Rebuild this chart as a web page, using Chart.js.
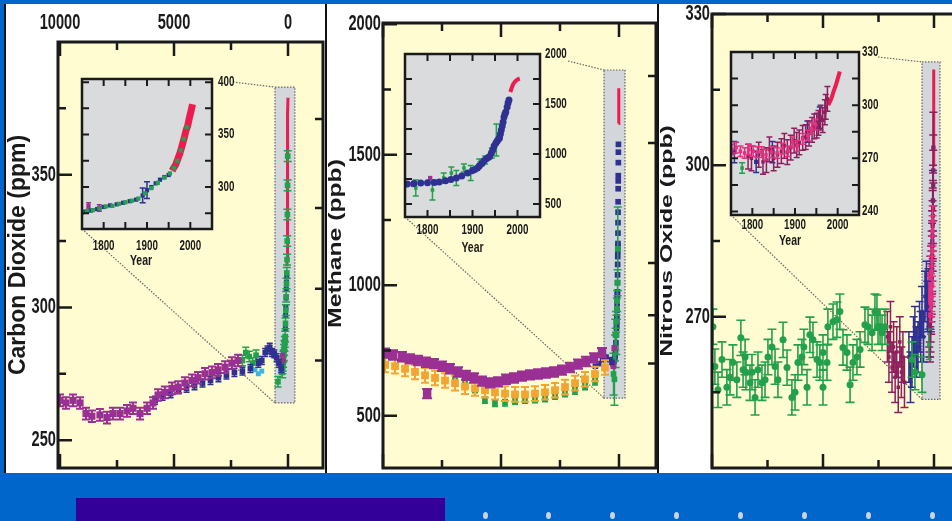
<!DOCTYPE html>
<html>
<head>
<meta charset="utf-8">
<title>Carbon dioxide, methane, nitrous oxide</title>
<script src="https://cdn.jsdelivr.net/npm/chart.js@4.4.1/dist/chart.umd.min.js"></script>
<style>
  html, body { margin: 0; padding: 0; }
  body { position: relative; width: 952px; height: 521px; overflow: hidden; background: #0066cc; }
  .panel { position: absolute; top: 4px; height: 469px; background: #fff; box-sizing: border-box; border-left: 2px solid #111; }
  canvas { position: absolute; }
  .bar { position: absolute; left: 76px; top: 498px; width: 369px; height: 23px; background: #330099; }
  .dot { position: absolute; top: 512px; width: 5px; height: 7px; border-radius: 50%; background: #c9d2e3; }
</style>
</head>
<body>
<div class="panel" style="left:4px;width:322px"></div>
<div class="panel" style="left:325px;width:334px"></div>
<div class="panel" style="left:657px;width:295px"></div>

<canvas id="co2" width="319" height="469" style="left:6px;top:4px"></canvas>
<canvas id="co2Inset" width="185" height="204" style="left:72px;top:70px"></canvas>
<canvas id="ch4" width="332" height="469" style="left:326px;top:4px"></canvas>
<canvas id="ch4Inset" width="190" height="217" style="left:395px;top:45px"></canvas>
<canvas id="n2o" width="316" height="469" style="left:659px;top:4px"></canvas>
<canvas id="n2oInset" width="183" height="217" style="left:721px;top:43px"></canvas>

<div class="bar"></div>
<div class="dot" style="left:483px"></div>
<div class="dot" style="left:546px"></div>
<div class="dot" style="left:610px"></div>
<div class="dot" style="left:674px"></div>
<div class="dot" style="left:738px"></div>
<div class="dot" style="left:802px"></div>
<div class="dot" style="left:866px"></div>
<div class="dot" style="left:930px"></div>

<script>
// shared axes: long axis is years before 2005, insets are calendar years
const refYear = 2005;
const ageTicks = [0, 2500, 5000, 7500, 10000];
const ageLabels = [10000, 5000, 0];
const yearTicks = [1800, 1850, 1900, 1950, 2000];
const yearLabels = [1800, 1900, 2000];

// ---- carbon dioxide (ppm) ----
const co2Ticks = [250, 275, 300, 325, 350, 375];
const co2Labels = [250, 300, 350];
const co2RightTicks = [280, 307, 337.5, 371];
const co2InsetTicks = [275, 300, 325, 350, 375, 400];
const co2InsetLabels = [300, 350, 400];
const co2Window = [570, -300, 264, 383]; // age from, age to, ppm low, ppm high

const co2PurpleAge = [10000, 9740, 9430, 9120, 8860, 8600, 8250, 7940, 7680, 7370, 7060, 6800, 6490, 6180, 5920, 5700, 5400, 5090, 4820, 4520, 4210, 3950, 3640, 3330, 3070, 2760, 2460, 2190];
const co2PurplePpm = [265, 264, 265, 264, 260, 259, 259.5, 258.5, 260, 260, 261, 262, 260, 262, 264, 267, 268, 269.5, 270, 271.5, 272.5, 273.5, 275, 275.5, 276.5, 277.5, 279, 280];
const co2BlueAge = [5830, 5500, 5150, 4800, 4450, 4100, 3750, 3400, 3050, 2700, 2350, 2000, 1650, 1300, 1150, 1000, 900, 800, 700, 600, 500, 400, 300];
const co2BluePpm = [265, 266.5, 267.5, 269, 269.5, 270.5, 271.5, 272.5, 273.5, 274.5, 275.5, 276, 277, 279, 280, 283, 284, 285, 283, 282.5, 281, 279, 277];
const co2GreenAge = [2000, 1850, 1700, 1550, 1400, 440];
const co2GreenPpm = [280, 283, 281.5, 279, 282, 272];
const co2CyanAge = [1450, 1300, 1150];
const co2CyanPpm = [276.5, 275, 276];

const co2LawYr = [1755, 1770, 1785, 1800, 1815, 1830, 1845, 1860, 1875, 1890, 1900, 1910, 1920, 1930, 1940, 1950];
const co2LawPpm = [276.5, 277.5, 279, 281, 282.5, 283.5, 285, 286.5, 288, 292, 297, 300, 303.5, 307, 309.5, 311.5];
const co2LawErr = [0, 0, 0, 0, 0, 0, 0, 0, 0, 7, 8, 0, 0, 0, 0, 0];
const co2SipleYr = [1750, 1762, 1775, 1790, 1805, 1820, 1835, 1850, 1865, 1880, 1895, 1910, 1925, 1940, 1953, 1962, 1970, 1978, 1985, 1992];
const co2SiplePpm = [275.5, 277, 278, 279.5, 281.5, 282, 284, 285.5, 287, 289, 294, 299, 304, 309, 313, 318, 325, 335, 346, 357];
const co2EarlyYr = [1765, 1790];
const co2EarlyPpm = [282, 280];
const co2MloYr = [1958, 1962, 1966, 1970, 1974, 1978, 1982, 1986, 1990, 1994, 1998, 2002, 2005];
const co2MloPpm = [315.5, 318.5, 321, 325.5, 330, 335, 341, 347, 354, 358.5, 366.5, 373, 379];

// ---- methane (ppb) ----
const ch4Ticks = [500, 750, 1000, 1250, 1500, 1750, 2000];
const ch4Labels = [500, 1000, 1500, 2000];
const ch4RightTicks = [700, 885, 1085, 1545, 1802];
const ch4InsetTicks = [500, 750, 1000, 1250, 1500, 1750, 2000];
const ch4InsetLabels = [500, 1000, 1500, 2000];
const ch4Window = [636, -254, 568, 1825];

const ch4PurpleAge = [9915, 9575, 9195, 8855, 8515, 8180, 7840, 7500, 7160, 6820, 6480, 6145, 5805, 5465, 5125, 4790, 4450, 4110, 3770, 3430, 3095, 2755, 2415, 2075, 1735, 1400, 1060, 720, 8130];
const ch4PurplePpb = [740, 733, 726, 718, 712, 705, 700, 690, 680, 668, 655, 645, 633, 626, 630, 640, 645, 652, 657, 660, 664, 668, 675, 685, 698, 708, 722, 742, 585];
const ch4OrangeAge = [9915, 9491, 9067, 8643, 8220, 7796, 7372, 6949, 6525, 6101, 5678, 5254, 4830, 4406, 3983, 3559, 3135, 2712, 2288, 1864, 1441, 1017, 593];
const ch4OrangePpb = [695, 690, 680, 668, 655, 645, 635, 625, 612, 605, 598, 590, 585, 582, 582, 585, 590, 598, 610, 625, 640, 660, 685];
const ch4GreenAge = [6950, 6525, 6100, 5680, 5255, 4830, 4405, 3985, 3560, 3135, 2710, 2290, 1865, 1440, 1015];
const ch4GreenPpb = [650, 640, 600, 560, 548, 550, 556, 560, 562, 566, 575, 585, 595, 612, 630];
const ch4BlueAge = [1000, 850, 700, 550, 400, 300];
const ch4BluePpb = [690, 700, 715, 725, 715, 705];

const ch4LawYr = [1755, 1770, 1785, 1800, 1815, 1826, 1840, 1852, 1864, 1876, 1889, 1900, 1905, 1911, 1915, 1921, 1925, 1930, 1935, 1938, 1942, 1945, 1948, 1952, 1955, 1958, 1960, 1962, 1964, 1966, 1968, 1970, 1972, 1974, 1977, 1979, 1981];
const ch4LawPpb = [700, 705, 710, 712, 716, 720, 732, 745, 760, 780, 810, 835, 845, 860, 880, 905, 930, 950, 965, 975, 1010, 1040, 1080, 1110, 1130, 1150, 1160, 1200, 1240, 1280, 1320, 1370, 1400, 1420, 1470, 1510, 1540];
const ch4FirnYr = [1774, 1811, 1836, 1853, 1864, 1881, 1896, 1915, 1928, 1943, 1953];
const ch4FirnPpb = [660, 640, 760, 810, 760, 860, 810, 910, 940, 1010, 1140];
const ch4FirnErr = [80, 100, 50, 60, 75, 40, 75, 40, 40, 50, 160];
const ch4EarlyYr = [1758, 1768, 1806];
const ch4EarlyPpb = [700, 690, 760];
const ch4AirYr = [1984, 1987, 1990, 1993, 1996, 1999, 2002, 2005];
const ch4AirPpb = [1620, 1660, 1695, 1715, 1730, 1742, 1750, 1755];

// ---- nitrous oxide (ppb) ----
const n2oTicks = [255, 270, 285, 300, 315, 330];
const n2oLabels = [270, 300, 330];
const n2oInsetTicks = [240, 255, 270, 285, 300, 315, 330];
const n2oInsetLabels = [240, 270, 300, 330];
const n2oWindow = [541, -270, 253.6, 320.5];

const n2oGreenAge = [9960, 9870, 9730, 9550, 9330, 9190, 9060, 8880, 8700, 8600, 8510, 8470, 8290, 8200, 8060, 7930, 7750, 7610, 7480, 7300, 7160, 7030, 6800, 6620, 6400, 6260, 6130, 5950, 5860, 5720, 5590, 5450, 5270, 5140, 5000, 5000, 4820, 4780, 4550, 4370, 4240, 4100, 3920, 3780, 3650, 3470, 3330, 3110, 2970, 2790, 2660, 2570, 2520, 2430, 2340, 2210, 990, 860, 540];
const n2oGreenPpb = [268, 260.1, 255.5, 261.5, 256, 258, 260.9, 257.5, 265.8, 259.5, 262, 259, 256.9, 259, 254, 259.5, 256.9, 257.5, 262, 264, 260.1, 257.5, 265.4, 259.9, 254, 255, 260.9, 262, 264, 256, 266.4, 265.4, 261.5, 260.9, 262.9, 256, 260.9, 268, 269, 269.4, 271, 263.9, 262.9, 256.5, 260.9, 262, 263.5, 268.4, 268, 266.8, 271, 270.8, 268, 268, 266.8, 268, 261.5, 259, 258.5];
const n2oMaroonAge = [2100, 2030, 1960, 1890, 1820, 1750, 1680, 1610, 1540, 1470, 1400, 1330];
const n2oMaroonPpb = [266, 262, 268, 260, 264, 258, 263, 256, 265, 259, 262, 257];
const n2oBlueAge = [1130, 1060, 990, 920, 860, 790, 720, 650, 600, 540, 470, 405, 340, 300];
const n2oBluePpb = [262, 258, 261, 265, 267, 263, 264, 268, 266, 271, 266, 274, 276, 272];

const n2oPinkYr = [1752, 1762, 1772, 1782, 1792, 1802, 1812, 1822, 1832, 1845, 1858, 1871, 1884, 1894, 1905, 1918, 1930, 1939, 1948];
const n2oPinkPpb = [275, 276, 274, 273, 275, 274, 273.5, 273.5, 272, 273.5, 273, 275.5, 274, 279, 277, 281, 283, 287, 289];
const n2oIceYr = [1790, 1798, 1815, 1825, 1833, 1840, 1850, 1859, 1868, 1875, 1882, 1890, 1898, 1904, 1910, 1918, 1925, 1933, 1940, 1945, 1951, 1955, 1960, 1965, 1970, 1972, 1976];
const n2oIcePpb = [271, 270, 272, 268, 269, 275, 270, 272, 274, 277, 273.5, 276, 280, 277.5, 279, 281.5, 282, 284, 286, 288, 288.5, 290, 293, 291.5, 296, 299, 303.5];
const n2oLawYr = [1758, 1809, 1847, 1929, 1958];
const n2oLawPpb = [273.5, 268, 273.5, 285, 293];
const n2oEarlyYr = [1776];
const n2oEarlyPpb = [264.5];
const n2oAirYr = [1978, 1981, 1984, 1987, 1990, 1993, 1996, 1999, 2002, 2005];
const n2oAirPpb = [300, 301.5, 303, 305, 307.5, 309.5, 311.5, 314, 316.5, 319];

// ---- drawing helpers ----
const ink = '#1a1a1a';
const sans = "'Liberation Sans', Arial, sans-serif";

// turn two arrays into points; calendar years become years before 2005 on the long axis
function pts(xs, ys, toAge) {
  return xs.map((x, i) => ({ x: toAge ? refYear - x : x, y: ys[i] }));
}

function marks(xs, ys, toAge, color, shape, r, err) {
  return {
    data: pts(xs, ys, toAge), showLine: false, pointStyle: shape, pointRadius: r,
    backgroundColor: color, borderColor: color, borderWidth: 0, errorBars: err || null
  };
}

function line(xs, ys, toAge, color, w) {
  return {
    data: pts(xs, ys, toAge), showLine: true, pointRadius: 0, borderColor: color,
    borderWidth: w, backgroundColor: color, tension: 0, fill: false
  };
}

// squeezed bold text, the figure uses a condensed face
function squeezed(ctx, text, x, y, align, size, sx) {
  ctx.save();
  ctx.translate(x, y);
  ctx.scale(sx, 1);
  ctx.font = 'bold ' + size + 'px ' + sans;
  ctx.fillStyle = ink;
  ctx.textAlign = align;
  ctx.textBaseline = 'middle';
  ctx.fillText(text, 0, 0);
  ctx.restore();
}

// plot background, zoom window, connectors, frame and inward ticks
const framePlugin = {
  id: 'frame',
  beforeDatasetsDraw(chart, args, o) {
    if (!o || !o.bg) return;
    const { ctx, chartArea: a } = chart;
    ctx.save();
    ctx.fillStyle = o.bg;
    ctx.fillRect(a.left, a.top, a.width, a.height);
    if (o.window) {
      const xs = chart.scales.x, ys = chart.scales.y, w = o.window;
      const x0 = xs.getPixelForValue(w[0]), x1 = xs.getPixelForValue(w[1]);
      const y0 = ys.getPixelForValue(w[3]), y1 = ys.getPixelForValue(w[2]);
      ctx.fillStyle = '#d3d6da';
      ctx.fillRect(x0, y0, x1 - x0, y1 - y0);
      ctx.setLineDash([1.5, 1.5]);
      ctx.strokeStyle = '#666';
      ctx.lineWidth = 1.2;
      ctx.strokeRect(x0, y0, x1 - x0, y1 - y0);
      const ins = chart.$inset;
      if (ins) {
        const r0 = chart.canvas.getBoundingClientRect(), r1 = ins.canvas.getBoundingClientRect();
        const dx = r1.left - r0.left, dy = r1.top - r0.top, ia = ins.chartArea;
        ctx.beginPath();
        ctx.moveTo(dx + ia.right + o.linkFrom[0], dy + ia.top + o.linkFrom[1]);
        ctx.lineTo(x0, y0);
        ctx.moveTo(dx + ia.left, dy + ia.bottom);
        ctx.lineTo(x0, y1);
        ctx.stroke();
      }
    }
    ctx.restore();
  },
  afterDatasetsDraw(chart, args, o) {
    if (!o || !o.bg) return;
    const { ctx, chartArea: a } = chart;
    const xs = chart.scales.x, ys = chart.scales.y;
    ctx.save();
    ctx.strokeStyle = ink;
    ctx.lineWidth = o.tickWidth;
    ctx.beginPath();
    xs.ticks.forEach(t => {
      const p = xs.getPixelForValue(t.value);
      const len = o.xMajor.includes(t.value) ? o.major : o.minor;
      ctx.moveTo(p, a.top); ctx.lineTo(p, a.top + len);
      ctx.moveTo(p, a.bottom); ctx.lineTo(p, a.bottom - len);
    });
    ys.ticks.forEach(t => {
      const p = ys.getPixelForValue(t.value);
      const len = o.yMajor.includes(t.value) ? o.major : o.minor;
      ctx.moveTo(a.left, p); ctx.lineTo(a.left + len, p);
      if (!o.rightTicks) { ctx.moveTo(a.right, p); ctx.lineTo(a.right - len, p); }
    });
    (o.rightTicks || []).forEach(v => {
      const p = ys.getPixelForValue(v);
      ctx.moveTo(a.right, p); ctx.lineTo(a.right - o.minor, p);
    });
    ctx.stroke();
    ctx.lineWidth = o.width;
    ctx.strokeRect(a.left, a.top, a.width, a.height);
    ctx.restore();
  }
};

// tick labels at the scales' tick positions, plus the inset "Year" title
const labelPlugin = {
  id: 'axisText',
  afterDraw(chart, args, o) {
    if (!o || !o.size) return;
    const { ctx, chartArea: a } = chart;
    const xs = chart.scales.x, ys = chart.scales.y;
    if (o.x) {
      xs.ticks.forEach(t => {
        if (!o.x.values.includes(t.value)) return;
        const y = o.x.side === 'top' ? a.top - o.x.gap : a.bottom + o.x.gap;
        squeezed(ctx, String(t.value), xs.getPixelForValue(t.value), y, 'center', o.size, o.sx);
      });
    }
    ys.ticks.forEach(t => {
      if (!o.y.values.includes(t.value)) return;
      const left = o.y.side === 'left';
      const x = left ? a.left - o.y.gap : a.right + o.y.gap;
      squeezed(ctx, String(t.value), x, ys.getPixelForValue(t.value), left ? 'right' : 'left', o.size, o.sx);
    });
    if (o.title) {
      squeezed(ctx, o.title.text, (a.left + a.right) / 2 + o.title.dx, a.bottom + o.title.gap, 'center', o.title.size, o.title.sx);
    }
  }
};

// vertical error bars with caps, drawn under each dataset's markers
const errorBarPlugin = {
  id: 'errorBars',
  beforeDatasetDraw(chart, args) {
    const ds = chart.data.datasets[args.index];
    const eb = ds.errorBars;
    if (!eb) return;
    const meta = args.meta, ys = chart.scales[meta.yAxisID];
    const { ctx, chartArea: a } = chart;
    ctx.save();
    ctx.beginPath();
    ctx.rect(a.left, a.top, a.width, a.height);
    ctx.clip();
    ctx.strokeStyle = ds.borderColor;
    ctx.lineWidth = eb.width || 1.5;
    ctx.beginPath();
    meta.data.forEach((pt, i) => {
      const e = Array.isArray(eb.size) ? eb.size[i] : eb.size;
      if (!e) return;
      const v = ds.data[i].y, h = eb.cap / 2;
      const t = ys.getPixelForValue(v + e), b = ys.getPixelForValue(v - e);
      ctx.moveTo(pt.x, t); ctx.lineTo(pt.x, b);
      ctx.moveTo(pt.x - h, t); ctx.lineTo(pt.x + h, t);
      ctx.moveTo(pt.x - h, b); ctx.lineTo(pt.x + h, b);
    });
    ctx.stroke();
    ctx.restore();
  }
};

// rotated axis title
const sideTitlePlugin = {
  id: 'sideTitle',
  afterDraw(chart, args, o) {
    if (!o || !o.text) return;
    const ctx = chart.ctx;
    ctx.save();
    ctx.translate(o.x, o.y);
    ctx.rotate(-Math.PI / 2);
    ctx.scale(o.stretch, 1);
    ctx.font = 'bold ' + o.size + 'px ' + sans;
    ctx.fillStyle = ink;
    ctx.textAlign = 'center';
    ctx.textBaseline = 'alphabetic';
    ctx.fillText(o.text, 0, o.size * 0.36);
    ctx.restore();
  }
};

Chart.register(framePlugin, errorBarPlugin, labelPlugin, sideTitlePlugin);

function mainChart(id, c) {
  return new Chart(document.getElementById(id), {
    type: 'scatter',
    data: { datasets: c.datasets },
    options: {
      responsive: false, animation: false, events: [], devicePixelRatio: 1,
      layout: { autoPadding: false, padding: { left: 0, top: 0, right: c.padRight, bottom: 5 } },
      plugins: {
        legend: { display: false }, tooltip: { enabled: false },
        frame: {
          bg: '#fffcd2', width: 3, tickWidth: 2.5, major: 14, minor: 8,
          xMajor: ageLabels, yMajor: c.yLabels, rightTicks: c.rightTicks,
          window: c.window, linkFrom: c.linkFrom
        },
        axisText: {
          size: 21.5, sx: 0.68,
          x: c.showAge ? { values: ageLabels, side: 'top', gap: 19 } : null,
          y: { values: c.yLabels, side: 'left', gap: 2 }
        },
        sideTitle: c.title
      },
      scales: {
        x: {
          type: 'linear', position: 'top', reverse: true, min: c.xMin, max: c.xMax,
          grid: { display: false }, border: { display: false }, ticks: { display: false },
          afterBuildTicks: s => { s.ticks = ageTicks.map(v => ({ value: v })); },
          afterFit: s => { s.height = c.top; }
        },
        y: {
          type: 'linear', position: 'left', min: c.yMin, max: c.yMax,
          grid: { display: false }, border: { display: false }, ticks: { display: false },
          afterBuildTicks: s => { s.ticks = c.yTicks.map(v => ({ value: v })); },
          afterFit: s => { s.width = c.left; }
        }
      }
    }
  });
}

function insetChart(id, c) {
  return new Chart(document.getElementById(id), {
    type: 'scatter',
    data: { datasets: c.datasets },
    options: {
      responsive: false, animation: false, events: [], devicePixelRatio: 1,
      layout: { autoPadding: false, padding: { left: 10, top: 9, right: 0, bottom: 0 } },
      plugins: {
        legend: { display: false }, tooltip: { enabled: false },
        frame: { bg: '#d9dbdd', width: 2.5, tickWidth: 2, major: 7, minor: 7, xMajor: yearLabels, yMajor: c.yLabels },
        axisText: {
          size: 14, sx: 0.7,
          x: { values: yearLabels, side: 'bottom', gap: c.xGap },
          y: { values: c.yLabels, side: 'right', gap: c.yGap },
          title: { text: 'Year', dx: c.titleDx, gap: c.titleGap, size: 14, sx: 0.75 }
        }
      },
      scales: {
        x: {
          type: 'linear', position: 'bottom', min: 1750, max: 2050,
          grid: { display: false }, border: { display: false }, ticks: { display: false },
          afterBuildTicks: s => { s.ticks = yearTicks.map(v => ({ value: v })); },
          afterFit: s => { s.height = 45; }
        },
        y: {
          type: 'linear', position: 'right', min: c.yMin, max: c.yMax,
          grid: { display: false }, border: { display: false }, ticks: { display: false },
          afterBuildTicks: s => { s.ticks = c.yTicks.map(v => ({ value: v })); },
          afterFit: s => { s.width = 45; }
        }
      }
    }
  });
}

const purple = '#9a3094', blue = '#2e3192', green = '#22a04c', cyan = '#3db4e5',
      red = '#ee1c4e', orange = '#f3a431', maroon = '#8e1f5f', pink = '#e8307f';

// ---- carbon dioxide ----
const co2Chart = mainChart('co2', {
  xMin: -1535, xMax: 10088, yMin: 239.5, yMax: 400, top: 38, left: 52, padRight: 2, showAge: true,
  yTicks: co2Ticks, yLabels: co2Labels, rightTicks: co2RightTicks, window: co2Window, linkFrom: [21, 3],
  title: { text: 'Carbon Dioxide (ppm)', x: 10.5, y: 251, size: 23, stretch: 1 },
  datasets: [
    marks(co2PurpleAge, co2PurplePpm, false, purple, 'rect', 5, { size: 2.2, cap: 8, width: 2 }),
    marks(co2BlueAge, co2BluePpm, false, blue, 'rect', 4, { size: 1.5, cap: 6 }),
    marks(co2CyanAge, co2CyanPpm, false, cyan, 'rect', 3.5),
    marks(co2GreenAge, co2GreenPpm, false, green, 'rect', 4, { size: 2, cap: 7 }),
    marks(co2EarlyYr, co2EarlyPpm, true, purple, 'rect', 3.5),
    marks(co2SipleYr, co2SiplePpm, true, green, 'rect', 4, { size: 2, cap: 8 }),
    marks(co2LawYr, co2LawPpm, true, blue, 'rect', 3.5),
    line(co2MloYr, co2MloPpm, true, red, 3)
  ]
});
const co2InsetChart = insetChart('co2Inset', {
  yMin: 260, yMax: 403, yTicks: co2InsetTicks, yLabels: co2InsetLabels,
  xGap: 17.5, yGap: 6, titleGap: 32, titleDx: -6,
  datasets: [
    marks(co2SipleYr, co2SiplePpm, false, green, 'rect', 3),
    marks(co2LawYr, co2LawPpm, false, blue, 'rect', 3, { size: co2LawErr, cap: 6 }),
    marks(co2EarlyYr, co2EarlyPpm, false, purple, 'rect', 3, { size: 3, cap: 5 }),
    line(co2MloYr, co2MloPpm, false, red, 7)
  ]
});
co2Chart.$inset = co2InsetChart;
co2Chart.draw();

// ---- methane ----
const ch4Chart = mainChart('ch4', {
  xMin: -1568, xMax: 10000, yMin: 300, yMax: 2005, top: 19, left: 57, padRight: 2, showAge: false,
  yTicks: ch4Ticks, yLabels: ch4Labels, rightTicks: ch4RightTicks, window: ch4Window, linkFrom: [28, 7],
  title: { text: 'Methane (ppb)', x: 8.5, y: 239.5, size: 19, stretch: 1.3 },
  datasets: [
    marks(ch4PurpleAge, ch4PurplePpb, false, purple, 'rect', 6, { size: 18, cap: 10, width: 2 }),
    marks(ch4OrangeAge, ch4OrangePpb, false, orange, 'rect', 5.5, { size: 28, cap: 8, width: 2 }),
    marks(ch4GreenAge, ch4GreenPpb, false, green, 'rect', 4, { size: 12, cap: 6 }),
    marks(ch4BlueAge, ch4BluePpb, false, blue, 'rect', 4),
    marks(ch4EarlyYr, ch4EarlyPpb, true, purple, 'rect', 4),
    marks(ch4FirnYr, ch4FirnPpb, true, green, 'rect', 4, { size: ch4FirnErr, cap: 8 }),
    marks(ch4LawYr, ch4LawPpb, true, blue, 'rect', 4),
    line(ch4AirYr, ch4AirPpb, true, red, 3)
  ]
});
const ch4InsetChart = insetChart('ch4Inset', {
  yMin: 370, yMax: 2000, yTicks: ch4InsetTicks, yLabels: ch4InsetLabels,
  xGap: 13, yGap: 5, titleGap: 31, titleDx: 0,
  datasets: [
    marks(ch4LawYr, ch4LawPpb, false, blue, 'circle', 3.5),
    marks(ch4EarlyYr, ch4EarlyPpb, false, purple, 'rect', 3),
    marks(ch4FirnYr, ch4FirnPpb, false, green, 'rect', 2.5, { size: ch4FirnErr, cap: 6 }),
    line(ch4AirYr, ch4AirPpb, false, red, 4)
  ]
});
ch4Chart.$inset = ch4InsetChart;
ch4Chart.draw();

// ---- nitrous oxide ----
const n2oChart = mainChart('n2o', {
  xMin: -1622, xMax: 10000, yMin: 240, yMax: 330, top: 10, left: 53, padRight: 5, showAge: false,
  yTicks: n2oTicks, yLabels: n2oLabels, window: n2oWindow, linkFrom: [19, 5],
  title: { text: 'Nitrous Oxide (ppb)', x: 7, y: 237, size: 17, stretch: 1.46 },
  datasets: [
    marks(n2oGreenAge, n2oGreenPpb, false, green, 'circle', 3.5, { size: 3.5, cap: 9, width: 1.6 }),
    marks(n2oMaroonAge, n2oMaroonPpb, false, maroon, 'rect', 2.5, { size: 5, cap: 8 }),
    marks(n2oBlueAge, n2oBluePpb, false, blue, 'rect', 2.5, { size: 5, cap: 8 }),
    marks(n2oEarlyYr, n2oEarlyPpb, true, green, 'rect', 2.5, { size: 3, cap: 6 }),
    marks(n2oPinkYr, n2oPinkPpb, true, pink, 'rect', 3, { size: 3, cap: 8 }),
    marks(n2oIceYr, n2oIcePpb, true, maroon, 'rect', 3, { size: 7, cap: 8 }),
    marks(n2oLawYr, n2oLawPpb, true, blue, 'rect', 3, { size: 6, cap: 8 }),
    line(n2oAirYr, n2oAirPpb, true, red, 3)
  ]
});
const n2oInsetChart = insetChart('n2oInset', {
  yMin: 238, yMax: 330, yTicks: n2oInsetTicks, yLabels: n2oInsetLabels,
  xGap: 10, yGap: 3, titleGap: 26, titleDx: -5,
  datasets: [
    marks(n2oPinkYr, n2oPinkPpb, false, pink, 'rect', 2.5, { size: 3, cap: 6 }),
    marks(n2oIceYr, n2oIcePpb, false, maroon, 'rect', 2.5, { size: 7, cap: 6 }),
    marks(n2oLawYr, n2oLawPpb, false, blue, 'rect', 3, { size: 6, cap: 6 }),
    marks(n2oEarlyYr, n2oEarlyPpb, false, green, 'rect', 2.5, { size: 3, cap: 6 }),
    line(n2oAirYr, n2oAirPpb, false, red, 4)
  ]
});
n2oChart.$inset = n2oInsetChart;
n2oChart.draw();
</script>
</body>
</html>
